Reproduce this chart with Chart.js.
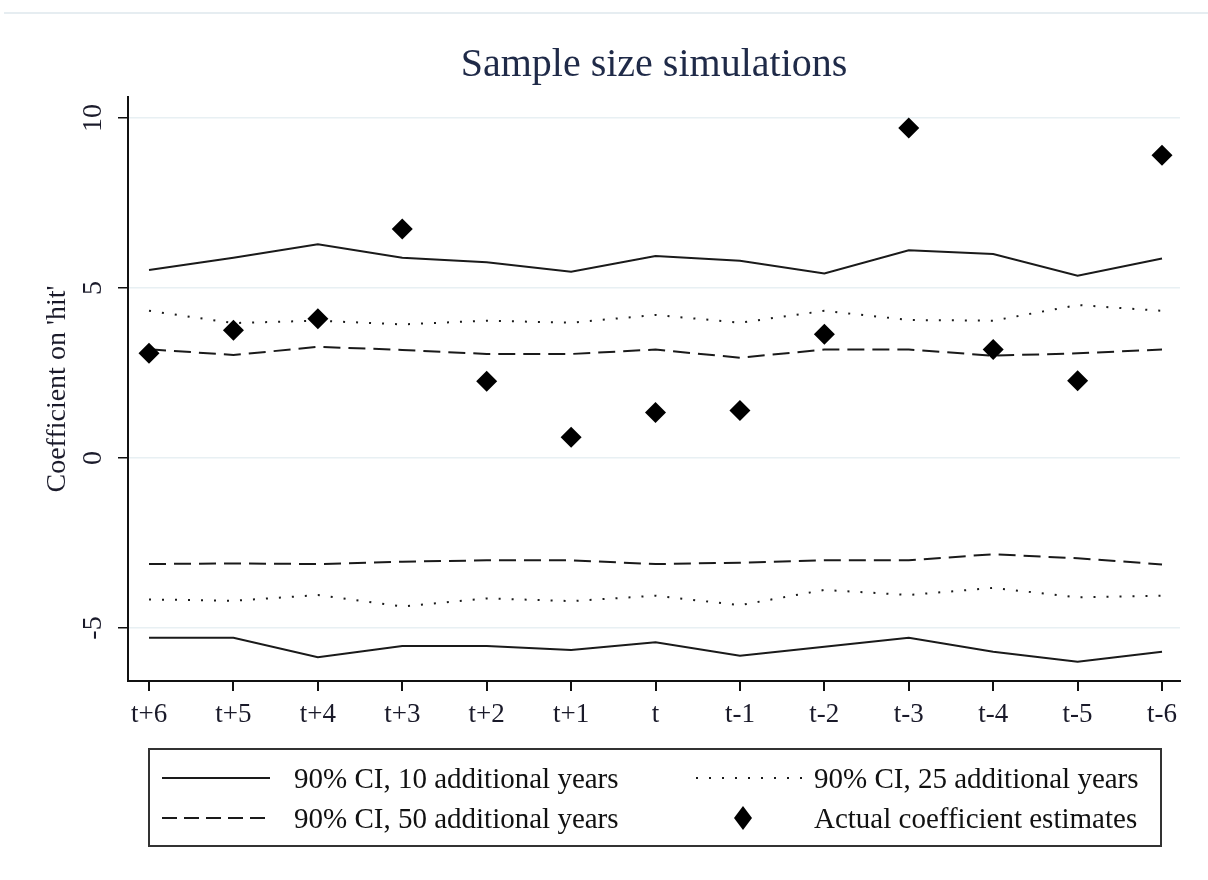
<!DOCTYPE html>
<html>
<head>
<meta charset="utf-8">
<script src="https://cdn.jsdelivr.net/npm/chart.js@4/dist/chart.umd.min.js"></script>
<style>
  html, body { margin: 0; padding: 0; background: #fff; }
  #wrap { position: relative; width: 1208px; height: 880px; overflow: hidden; }
  #topline { position: absolute; left: 4px; top: 12px; width: 1204px; height: 2px; background: #e6edf1; }
  canvas { position: absolute; left: 0; top: 0; }
  #legend { position: absolute; left: 148px; top: 748px; width: 1010px; height: 95px;
            border: 2px solid #333; font-family: "Liberation Serif", serif; font-size: 29px; color: #111; }
  .item { position: absolute; white-space: nowrap; line-height: 34px; height: 34px; }
  .sym { position: absolute; line-height: 0; }
  .sym svg { display: block; }
</style>
</head>
<body>
<div id="wrap">
  <div id="topline"></div>
  <canvas id="c" width="1208" height="880"></canvas>
  <div id="legend"></div>
</div>
<script>
// ---- data ----
const categories = ["t+6","t+5","t+4","t+3","t+2","t+1","t","t-1","t-2","t-3","t-4","t-5","t-6"];
const upper10 = [5.53, 5.89, 6.29, 5.89, 5.76, 5.48, 5.94, 5.80, 5.43, 6.11, 6.00, 5.36, 5.87];
const lower10 = [-5.29, -5.29, -5.86, -5.53, -5.53, -5.65, -5.42, -5.82, -5.55, -5.29, -5.70, -5.99, -5.70];
const upper25 = [4.33, 3.97, 4.04, 3.93, 4.04, 3.98, 4.21, 3.98, 4.33, 4.06, 4.04, 4.50, 4.33];
const lower25 = [-4.16, -4.20, -4.03, -4.37, -4.13, -4.21, -4.05, -4.33, -3.88, -4.03, -3.82, -4.10, -4.05];
const upper50 = [3.20, 3.03, 3.27, 3.18, 3.06, 3.06, 3.19, 2.95, 3.19, 3.19, 3.01, 3.08, 3.19];
const lower50 = [-3.12, -3.10, -3.12, -3.05, -3.01, -3.01, -3.12, -3.08, -3.01, -3.01, -2.83, -2.95, -3.13];
const actual = [3.08, 3.76, 4.10, 6.74, 2.26, 0.61, 1.34, 1.40, 3.64, 9.71, 3.19, 2.27, 8.91];
const yTicks = [-5, 0, 5, 10];
const legendLabels = ["90% CI, 10 additional years", "90% CI, 25 additional years",
                      "90% CI, 50 additional years", "Actual coefficient estimates"];
const titleText = "Sample size simulations";
const yTitle = "Coefficient on 'hit'";

// ---- build ----
const pts = arr => arr.map((v, i) => ({x: i, y: v}));
const INK = '#1a1a1a';
const SERIF = '"Liberation Serif", "Times New Roman", serif';
function lineDs(arr, dash) {
  return { type: 'line', data: pts(arr), borderColor: INK, borderWidth: 2, borderDash: dash,
           pointRadius: 0, tension: 0, fill: false, order: 2 };
}
const datasets = [
  lineDs(upper10, []), lineDs(lower10, []),
  lineDs(upper25, [2, 11]), lineDs(lower25, [2, 11]),
  lineDs(upper50, [17, 8]), lineDs(lower50, [17, 8]),
  { type: 'scatter', data: pts(actual), pointStyle: 'rectRot', pointRadius: 10.5,
    backgroundColor: '#000', borderColor: '#000', borderWidth: 0, showLine: false, order: 1 }
];

new Chart(document.getElementById('c'), {
  type: 'line',
  data: { datasets },
  options: {
    responsive: false, animation: false,
    layout: { padding: { left: 0, right: 28, top: 0, bottom: 0 } },
    plugins: {
      legend: { display: false }, tooltip: { enabled: false },
      title: { display: true, text: titleText, fullSize: false, color: '#1f2a48',
               font: { family: SERIF, size: 40, weight: 'normal' },
               padding: { top: 41, bottom: 8 } }
    },
    scales: {
      x: {
        type: 'linear', min: -0.249, max: 12.213,
        afterFit: s => { s.height = 199; },
        afterBuildTicks: s => { s.ticks = categories.map((_, i) => ({ value: i })); },
        ticks: { stepSize: 1, autoSkip: false, maxRotation: 0, includeBounds: false,
                 padding: 8, color: '#1a1a2a',
                 font: { family: SERIF, size: 27 },
                 callback: v => categories[v] },
        grid: { drawOnChartArea: false, drawTicks: true, tickLength: 10, tickColor: '#111', lineWidth: 2 },
        border: { display: true, color: '#111', width: 2 }
      },
      y: {
        type: 'linear', min: -6.56, max: 10.62,
        afterFit: s => { s.width = 128; },
        afterBuildTicks: s => { s.ticks = yTicks.map(v => ({ value: v })); },
        ticks: { includeBounds: false, minRotation: 90, maxRotation: 90, crossAlign: 'center',
                 padding: 10, color: '#1a1a2a', font: { family: SERIF, size: 28 } },
        grid: { color: '#e8f0f3', lineWidth: 1.5, drawTicks: true, tickLength: 10, tickColor: '#111' },
        border: { display: true, color: '#111', width: 2 },
        title: { display: true, text: yTitle, color: '#1a1a2a',
                 font: { family: SERIF, size: 28 }, padding: { top: 41, bottom: 0 } }
      }
    }
  }
});

// ---- legend (HTML) ----
const lg = document.getElementById('legend');
function svgLine(dash) {
  return '<svg width="108" height="6"><line x1="0" y1="3" x2="108" y2="3" stroke="' + INK +
         '" stroke-width="2" ' + (dash ? 'stroke-dasharray="' + dash + '"' : '') + '/></svg>';
}
const rows = [28, 68];
const items = [
  { sym: svgLine(''), sx: 12, tx: 144, row: 0, label: legendLabels[0] },
  { sym: svgLine('2,11'), sx: 546, tx: 664, row: 0, label: legendLabels[1] },
  { sym: svgLine('15,7'), sx: 12, tx: 144, row: 1, label: legendLabels[2] },
  { sym: '<svg width="20" height="24"><polygon points="10,0 19,12 10,24 1,12" fill="#000"/></svg>',
    sx: 583, tx: 664, row: 1, label: legendLabels[3] }
];
items.forEach(it => {
  const s = document.createElement('div');
  s.className = 'sym';
  s.innerHTML = it.sym;
  s.style.left = it.sx + 'px';
  lg.appendChild(s);
  const h = +s.firstChild.getAttribute('height');
  s.style.top = (rows[it.row] - h / 2) + 'px';
  const t = document.createElement('div');
  t.className = 'item';
  t.textContent = it.label;
  t.style.left = it.tx + 'px';
  t.style.top = (rows[it.row] - 17) + 'px';
  lg.appendChild(t);
});
</script>
</body>
</html>
